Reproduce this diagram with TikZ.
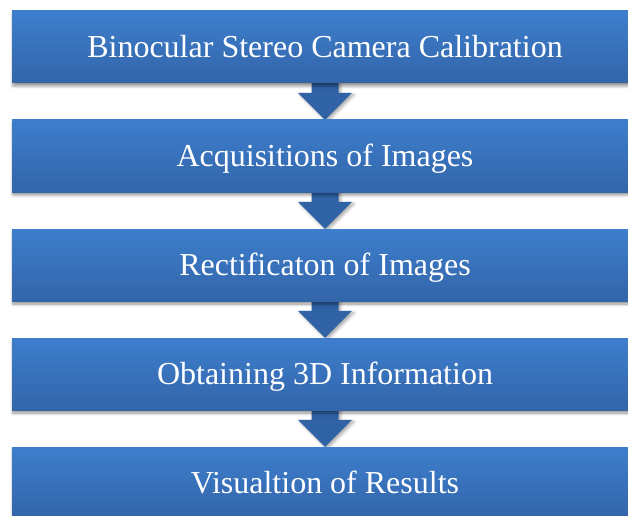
\documentclass[tikz,border=0pt]{standalone}
\usepackage{fontspec}
\setmainfont{Liberation Serif}
\usetikzlibrary{calc,shadows.blur,backgrounds}
\definecolor{boxtop}{HTML}{3D7ECD}
\definecolor{boxbot}{HTML}{3365A9}
\definecolor{arrowcol}{HTML}{2F63A6}
\tikzset{
  stage/.style={minimum width=626pt, minimum height=72pt, inner sep=0pt,
    text height=21pt, text depth=0pt,
    top color=boxtop, bottom color=boxbot, text=white,
    font=\fontsize{32}{34}\selectfont,
    blur shadow={shadow xshift=1pt, shadow yshift=-3pt, shadow blur steps=6, shadow opacity=45, shadow blur radius=3pt}},
  flowarrow/.style={fill=arrowcol,
    blur shadow={shadow xshift=2pt, shadow yshift=-2pt, shadow blur steps=6, shadow opacity=35, shadow blur radius=3pt}}
}
\begin{document}
\begin{tikzpicture}[x=1pt,y=1pt]
\useasboundingbox (0,0) rectangle (628,515);
\clip (0,0) rectangle (628,515);
\node[stage] (b1) at (325,468) {Binocular Stereo Camera Calibration};
\node[stage] (b2) at (325,359) {Acquisitions of Images};
\node[stage] (b3) at (325,250) {Rectificaton of Images};
\node[stage] (b4) at (325,141) {Obtaining 3D Information};
\node[stage] (b5) at (325,32) {Visualtion of Results};
\begin{scope}[on background layer]
\foreach \s/\t in {b1/b2,b2/b3,b3/b4,b4/b5}{
  \path[flowarrow] ($(\s.south)+(-13.5,1)$) -- ($(\t.north)+(-13.5,27)$) -- ($(\t.north)+(-27,27)$) -- (\t.north)
     -- ($(\t.north)+(27,27)$) -- ($(\t.north)+(13.5,27)$) -- ($(\s.south)+(13.5,1)$) -- cycle;
}
\end{scope}
\end{tikzpicture}
\end{document}
